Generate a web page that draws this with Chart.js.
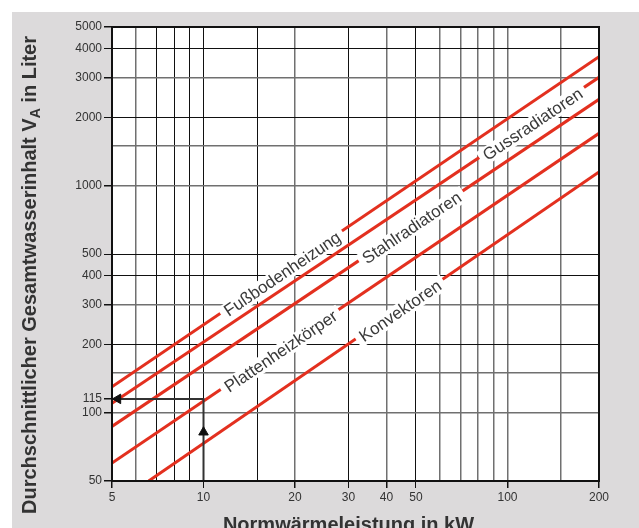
<!DOCTYPE html>
<html>
<head>
<meta charset="utf-8">
<script src="https://cdn.jsdelivr.net/npm/chart.js@4.4.0/dist/chart.umd.min.js"></script>
<style>
  html, body { margin: 0; padding: 0; background: #fff; }
  #wrap { width: 639px; height: 528px; }
</style>
</head>
<body>
<div id="wrap"><canvas id="chart"></canvas></div>
<script>
// values: Normwärmeleistung (kW) -> Wasserinhalt (l)
var seriesNames = ['Fußbodenheizung', 'Gussradiatoren', 'Stahlradiatoren', 'Plattenheizkörper', 'Konvektoren'];
var seriesPower = [[5, 200], [5, 200], [5, 200], [5, 200], [6.6, 200]];
var seriesVolume = [[130, 3700], [110, 3000], [87, 2400], [60, 1700], [50, 1150]];
var labelPower = [18, 120, 48, 17.8, 44];

var xTicks = [5, 6, 7, 8, 9, 10, 15, 20, 30, 40, 50, 60, 70, 80, 90, 100, 150, 200];
var xLabels = [5, 10, 20, 30, 40, 50, 100, 200];
var yTicks = [50, 100, 115, 150, 200, 300, 400, 500, 1000, 1500, 2000, 3000, 4000, 5000];
var yLabels = [50, 100, 115, 200, 300, 400, 500, 1000, 2000, 3000, 4000, 5000];

// reading example: 10 kW -> 115 l
var examplePower = [10, 10, 5];
var exampleVolume = [50, 115, 115];
var arrowPower = [10, 5.23];
var arrowVolume = [82, 115];

var red = '#e3301f';
var darkX = [7, 8, 9, 10, 15, 30, 50];
var darkY = [4000, 2000, 500, 400, 200];

function points(xs, ys) {
    return xs.map(function (x, i) { return { x: x, y: ys[i] }; });
}

var datasets = [
    {
        data: points(arrowPower, arrowVolume),
        showLine: false,
        pointStyle: 'triangle',
        pointRadius: 5.5,
        rotation: [0, -90],
        backgroundColor: '#111',
        borderColor: '#111',
        borderWidth: 1
    },
    {
        data: points(examplePower, exampleVolume),
        showLine: true,
        borderColor: '#333',
        borderWidth: 2,
        pointRadius: 0
    }
];
seriesNames.forEach(function (name, i) {
    datasets.push({
        label: name,
        data: points(seriesPower[i], seriesVolume[i]),
        showLine: true,
        borderColor: red,
        borderWidth: 3,
        pointRadius: 0
    });
});

var bgPlugin = {
    id: 'bg',
    beforeDraw: function (chart) {
        var ctx = chart.ctx, a = chart.chartArea;
        ctx.save();
        ctx.fillStyle = '#fff';
        ctx.fillRect(0, 0, chart.width, chart.height);
        ctx.fillStyle = '#dcdadb';
        ctx.fillRect(12, 12, chart.width - 12, chart.height - 12);
        ctx.fillStyle = '#fff';
        ctx.fillRect(a.left, a.top, a.right - a.left, a.bottom - a.top);
        ctx.restore();
    }
};

var labelPlugin = {
    id: 'curveLabels',
    afterDatasetsDraw: function (chart) {
        var ctx = chart.ctx, xs = chart.scales.x, ys = chart.scales.y;
        ctx.save();
        ctx.font = '17px "Liberation Sans", Arial, sans-serif';
        ctx.textAlign = 'center';
        ctx.textBaseline = 'middle';
        seriesNames.forEach(function (name, i) {
            var q = seriesPower[i], v = seriesVolume[i];
            var t = Math.log(labelPower[i] / q[0]) / Math.log(q[1] / q[0]);
            var val = Math.exp(Math.log(v[0]) + t * Math.log(v[1] / v[0]));
            var px = xs.getPixelForValue(labelPower[i]);
            var py = ys.getPixelForValue(val);
            var ang = Math.atan2(ys.getPixelForValue(v[1]) - ys.getPixelForValue(v[0]),
                                 xs.getPixelForValue(q[1]) - xs.getPixelForValue(q[0]));
            var w = ctx.measureText(name).width;
            ctx.save();
            ctx.translate(px, py);
            ctx.rotate(ang);
            ctx.fillStyle = '#fff';
            ctx.fillRect(-w / 2 - 5, -6, w + 10, 17);
            ctx.fillStyle = '#3a3a3a';
            ctx.fillText(name, 0, 3);
            ctx.restore();
        });
        ctx.restore();
    }
};

var framePlugin = {
    id: 'frame',
    afterDraw: function (chart) {
        var ctx = chart.ctx, a = chart.chartArea;
        ctx.save();
        ctx.strokeStyle = '#111';
        ctx.lineWidth = 2;
        ctx.strokeRect(a.left, a.top, a.right - a.left, a.bottom - a.top);

        ctx.fillStyle = '#333';
        ctx.font = 'bold 20px "Liberation Sans", Arial, sans-serif';
        ctx.textBaseline = 'alphabetic';
        ctx.textAlign = 'center';
        ctx.fillText('Normwärmeleistung in kW', (a.left + a.right) / 2 - 7, 531);

        // y title with subscript A
        var partA = 'Durchschnittlicher Gesamtwasserinhalt V', sub = 'A', partB = ' in Liter';
        ctx.textAlign = 'left';
        var w1 = ctx.measureText(partA).width, w2 = ctx.measureText(partB).width;
        ctx.font = 'bold 14px "Liberation Sans", Arial, sans-serif';
        var ws = ctx.measureText(sub).width;
        var start = -(w1 + ws + w2) / 2;
        ctx.translate(36, 275);
        ctx.rotate(-Math.PI / 2);
        ctx.fillText(sub, start + w1, 4);
        ctx.font = 'bold 20px "Liberation Sans", Arial, sans-serif';
        ctx.fillText(partA, start, 0);
        ctx.fillText(partB, start + w1 + ws, 0);
        ctx.restore();
    }
};

var tickFont = { family: '"Liberation Sans", Arial, sans-serif', size: 12 };

new Chart(document.getElementById('chart'), {
    type: 'scatter',
    data: { datasets: datasets },
    options: {
        responsive: true,
        maintainAspectRatio: false,
        animation: false,
        layout: { padding: { left: 0, top: 27, right: 40, bottom: 0 } },
        plugins: { legend: { display: false }, tooltip: { enabled: false } },
        scales: {
            x: {
                type: 'logarithmic',
                min: 5,
                max: 200,
                afterBuildTicks: function (axis) {
                    axis.ticks = xTicks.map(function (v) { return { value: v }; });
                },
                afterFit: function (axis) { axis.height = 47; },
                ticks: {
                    autoSkip: false,
                    maxRotation: 0,
                    padding: 2,
                    color: '#333',
                    font: tickFont,
                    callback: function (value) {
                        return xLabels.indexOf(value) >= 0 ? String(value) : '';
                    }
                },
                grid: {
                    tickLength: 7,
                    color: function (c) {
                        return darkX.indexOf(c.tick.value) >= 0 ? '#111' : '#707070';
                    },
                    lineWidth: function (c) {
                        return darkX.indexOf(c.tick.value) >= 0 ? 1 : 1.5;
                    },
                    tickColor: function (c) {
                        return xLabels.indexOf(c.tick.value) >= 0 ? '#111' : 'rgba(0,0,0,0)';
                    }
                },
                border: { color: '#111', width: 2 }
            },
            y: {
                type: 'logarithmic',
                min: 50,
                max: 5000,
                afterBuildTicks: function (axis) {
                    axis.ticks = yTicks.map(function (v) { return { value: v }; });
                },
                afterFit: function (axis) { axis.width = 112; },
                ticks: {
                    autoSkip: false,
                    padding: 2,
                    color: '#333',
                    font: tickFont,
                    callback: function (value) {
                        return yLabels.indexOf(value) >= 0 ? String(value) : '';
                    }
                },
                grid: {
                    tickLength: 8,
                    color: function (c) {
                        if (c.tick.value === 115) return 'rgba(0,0,0,0)';
                        return darkY.indexOf(c.tick.value) >= 0 ? '#111' : '#707070';
                    },
                    lineWidth: function (c) {
                        return darkY.indexOf(c.tick.value) >= 0 ? 1 : 1.5;
                    },
                    tickColor: function (c) {
                        return yLabels.indexOf(c.tick.value) >= 0 ? '#111' : 'rgba(0,0,0,0)';
                    }
                },
                border: { color: '#111', width: 2 }
            }
        }
    },
    plugins: [bgPlugin, labelPlugin, framePlugin]
});
</script>
</body>
</html>
